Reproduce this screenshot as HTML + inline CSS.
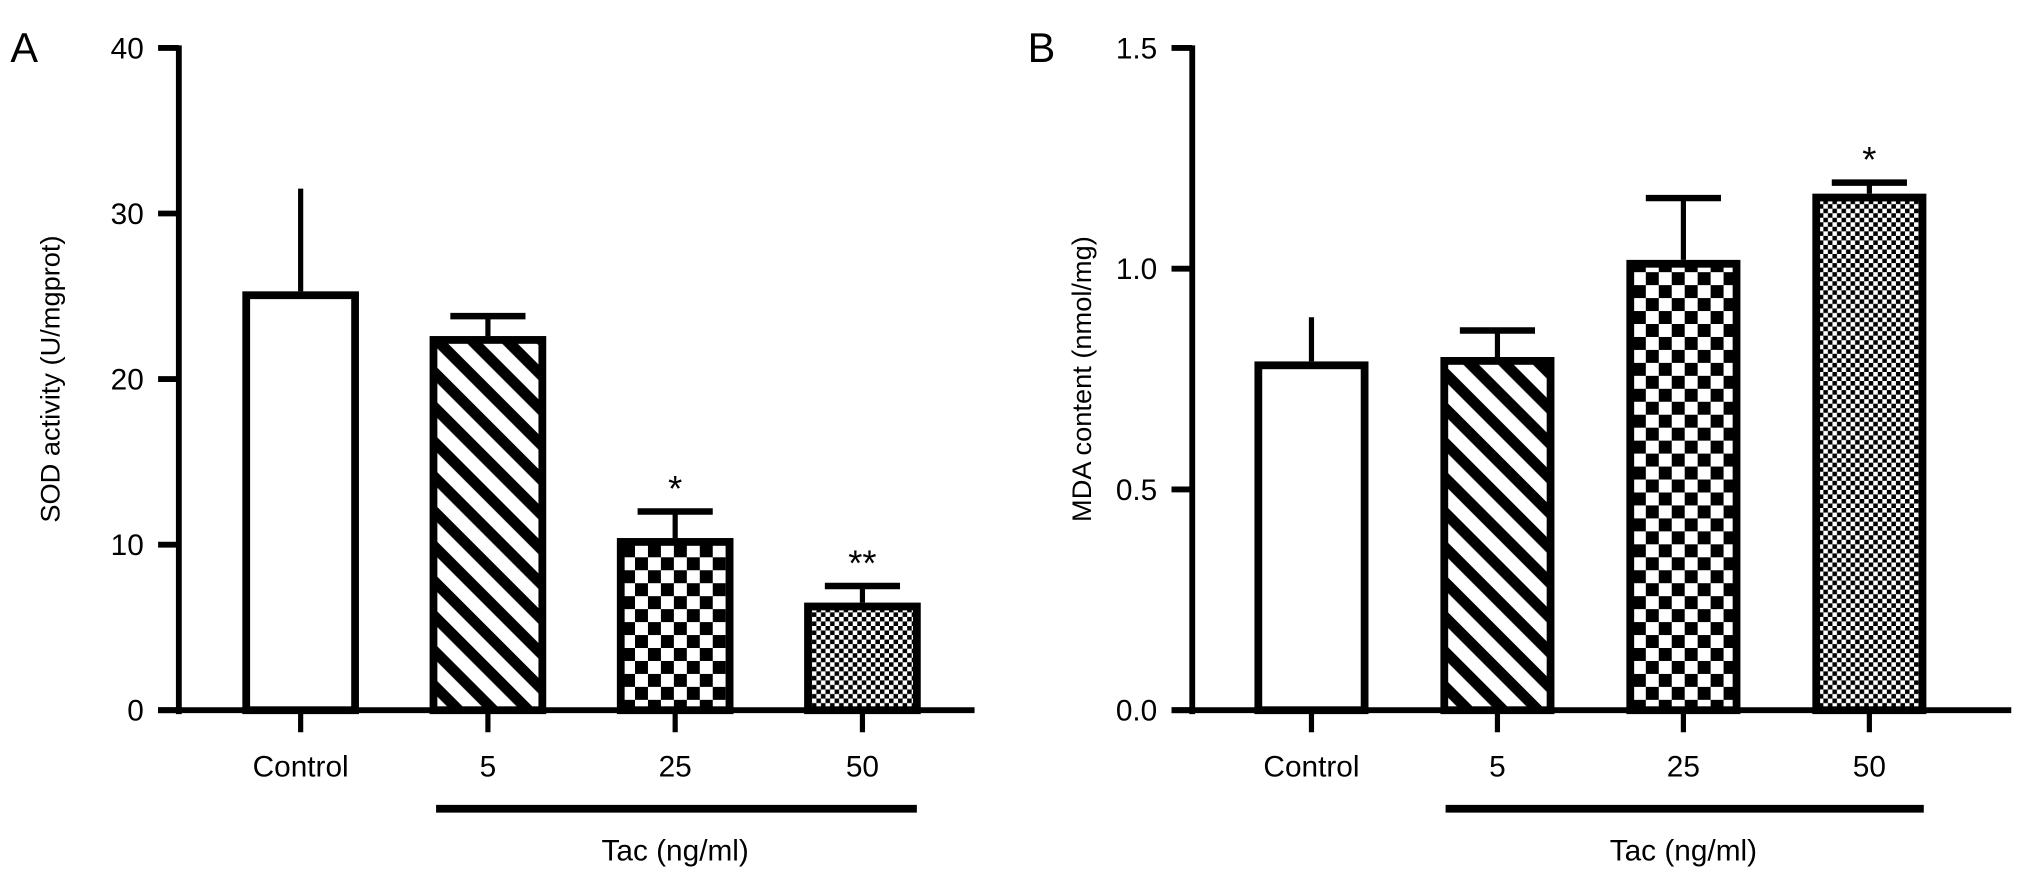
<!DOCTYPE html>
<html><head><meta charset="utf-8"><style>
html,body{margin:0;padding:0;background:#fff;}
svg{display:block;font-family:"Liberation Sans",Arial,sans-serif;}
</style></head><body>
<svg id="fig" width="2032" height="880" viewBox="0 0 1568 679" preserveAspectRatio="none" xmlns="http://www.w3.org/2000/svg">
<defs>
<pattern id="stripes" patternUnits="userSpaceOnUse" width="19" height="19" patternTransform="rotate(45)">
<rect width="19" height="19" fill="#fff"/><rect x="0" y="0" width="19" height="8.5" fill="#000"/>
</pattern>
<pattern id="check14" patternUnits="userSpaceOnUse" width="20" height="20">
<rect width="20" height="20" fill="#fff"/><rect x="0" y="0" width="10" height="10" fill="#000"/><rect x="10" y="10" width="10" height="10" fill="#000"/>
</pattern>
<pattern id="check7" patternUnits="userSpaceOnUse" width="7" height="7">
<rect width="7" height="7" fill="#fff"/><rect x="0" y="0" width="3.5" height="3.5" fill="#000"/><rect x="3.5" y="3.5" width="3.5" height="3.5" fill="#000"/>
</pattern>
</defs>
<g id="panelA"></g>
<g id="panelB"></g>
</svg>
<script>
const categories = ["Control", "5", "25", "50"];
const sodValues = [25.3, 22.6, 10.4, 6.5];
const sodErrors = [6.2, 1.2, 1.6, 1.0];
const sodStars = ["", "", "*", "**"];
const sodTicks = [0, 10, 20, 30, 40];
const mdaValues = [0.79, 0.80, 1.02, 1.17];
const mdaErrors = [0.10, 0.06, 0.14, 0.025];
const mdaStars = ["", "", "", "*"];
const mdaTicks = [0.0, 0.5, 1.0, 1.5];
const mdaTickLabels = ["0.0", "0.5", "1.0", "1.5"];
const fills = ["#fff", "url(#stripes)", "url(#check14)", "url(#check7)"];

const NS = "http://www.w3.org/2000/svg";
function mk(parent, tag, attrs, text) {
  const e = document.createElementNS(NS, tag);
  for (const k in attrs) e.setAttribute(k, attrs[k]);
  if (text !== undefined) e.textContent = text;
  parent.appendChild(e);
  return e;
}

function drawPanel(g, cfg) {
  const yScale = v => cfg.y0 - (v - cfg.vmin) / (cfg.vmax - cfg.vmin) * (cfg.y0 - cfg.y1);
  const xScale = i => cfg.xFirst + i * cfg.step;
  let t = mk(g, "text", {x: cfg.letterX, y: 48, "font-size": 32}, cfg.letter);
  
  
  let ax = mk(g, "line", {x1: cfg.axX, y1: cfg.y1 - 2, x2: cfg.axX, y2: cfg.y0 + 3, stroke: "#000", "stroke-width": 4.5});
  
  
  let xa = mk(g, "line", {x1: cfg.axX - 16, y1: cfg.y0, x2: cfg.xEnd, y2: cfg.y0, stroke: "#000", "stroke-width": 4.5});
  
  
  cfg.ticks.forEach((v, i) => {
    const y = yScale(v);
    let tk = mk(g, "line", {x1: cfg.axX - 16, y1: y, x2: cfg.axX, y2: y, stroke: "#000", "stroke-width": 4.5});
    
    
    let tl = mk(g, "text", {x: cfg.axX - 27, y: y + 8, "font-size": 23, "text-anchor": "end"}, cfg.tickLabels[i]);
    
    
  });
  let yt = mk(g, "text", {x: 0, y: 0, "font-size": 21, "text-anchor": "middle", transform: `translate(${cfg.titleX},${(cfg.y0 + cfg.y1) / 2}) rotate(-90)`}, cfg.title);
  
  
  categories.forEach((c, i) => {
    const cx = xScale(i), w = cfg.barW;
    const top = yScale(cfg.values[i]);
    const errTop = yScale(cfg.values[i] + cfg.errors[i]);
    let el = mk(g, "line", {x1: cx, y1: errTop, x2: cx, y2: top, stroke: "#000", "stroke-width": 4});
    
    
    if (i > 0) {
      let cap = mk(g, "line", {x1: cx - 29, y1: errTop, x2: cx + 29, y2: errTop, stroke: "#000", "stroke-width": 5});
      
      
    }
    let b = mk(g, "rect", {x: cx - w / 2 + 3, y: top + 3, width: w - 6, height: cfg.y0 - top - 3, fill: fills[i], stroke: "#000", "stroke-width": 6});
    
    
    let xt = mk(g, "line", {x1: cx, y1: cfg.y0, x2: cx, y2: cfg.y0 + 17, stroke: "#000", "stroke-width": 4});
    
    
    let xl = mk(g, "text", {x: cx, y: cfg.y0 + 51, "font-size": 23, "text-anchor": "middle"}, c);
    
    
    if (cfg.stars[i]) {
      let s = mk(g, "text", {x: cx, y: errTop - 8, "font-size": 28, "text-anchor": "middle"}, cfg.stars[i]);
      
      
    }
  });
  let ul = mk(g, "line", {x1: xScale(1) - 40, y1: cfg.y0 + 76, x2: xScale(3) + 42, y2: cfg.y0 + 76, stroke: "#000", "stroke-width": 6});
  
  
  let tac = mk(g, "text", {x: (xScale(1) + xScale(3)) / 2, y: cfg.y0 + 116, "font-size": 23, "text-anchor": "middle"}, "Tac (ng/ml)");
  
  
}

drawPanel(document.getElementById("panelA"), {
  letter: "A", letterX: 8, axX: 138, y0: 548, y1: 37, vmin: 0, vmax: 40, xFirst: 232, step: 144.5, barW: 90, xEnd: 752,
  ticks: sodTicks, tickLabels: sodTicks.map(String), title: "SOD activity (U/mgprot)", titleX: 46,
  values: sodValues, errors: sodErrors, stars: sodStars
});
drawPanel(document.getElementById("panelB"), {
  letter: "B", letterX: 793, axX: 920, y0: 548, y1: 37, vmin: 0, vmax: 1.5, xFirst: 1012, step: 143.5, barW: 88, xEnd: 1552,
  ticks: mdaTicks, tickLabels: mdaTickLabels, title: "MDA content (nmol/mg)", titleX: 842,
  values: mdaValues, errors: mdaErrors, stars: mdaStars
});
</script>
</body></html>
